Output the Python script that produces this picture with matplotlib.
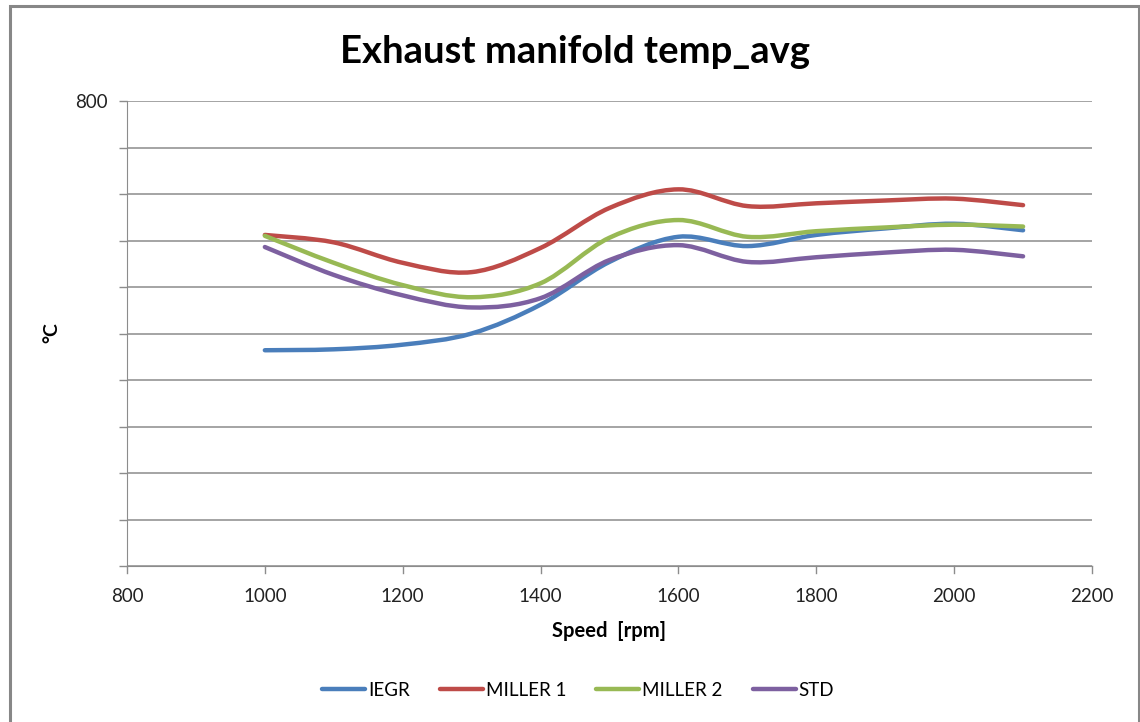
import numpy as np
import matplotlib
matplotlib.use("Agg")
import matplotlib.pyplot as plt
from matplotlib.path import Path
from matplotlib.patches import PathPatch, Rectangle
from matplotlib.lines import Line2D

plt.rcParams['font.family'] = ['Lato', 'DejaVu Sans']

speed = [1000, 1100, 1200, 1300, 1400, 1500, 1600, 1700, 1800, 1900, 2000, 2100]
iegr = [532, 533, 538, 550, 581, 627, 654, 644, 656, 663, 668, 661]
miller1 = [656, 648, 626, 616, 642, 685, 705, 687, 690, 693, 695, 688]
miller2 = [655, 626, 602, 589, 604, 653, 672, 654, 660, 664, 667, 665]
std = [643, 613, 591, 578, 588, 629, 645, 627, 632, 637, 640, 633]

series_names = ["IEGR", "MILLER 1", "MILLER 2", "STD"]
series_vals = [iegr, miller1, miller2, std]
colors = ["#4a7ebb", "#be4b48", "#98b954", "#7d60a0"]

x_ticks = [800, 1000, 1200, 1400, 1600, 1800, 2000, 2200]
y_min, y_max, y_step = 300, 800, 50


def smooth_path(xs, ys, tension=1 / 6):
    """Cubic Bezier path through the points (Catmull-Rom style smoothing)."""
    xs = np.asarray(xs, float)
    ys = np.asarray(ys, float)
    n = len(xs)
    verts = [(xs[0], ys[0])]
    codes = [Path.MOVETO]
    for i in range(n - 1):
        p0 = np.array([xs[max(i - 1, 0)], ys[max(i - 1, 0)]])
        p1 = np.array([xs[i], ys[i]])
        p2 = np.array([xs[i + 1], ys[i + 1]])
        p3 = np.array([xs[min(i + 2, n - 1)], ys[min(i + 2, n - 1)]])
        c1 = p1 + (p2 - p0) * tension
        c2 = p2 - (p3 - p1) * tension
        verts += [tuple(c1), tuple(c2), tuple(p2)]
        codes += [Path.CURVE4] * 3
    return Path(verts, codes)


fig = plt.figure(figsize=(11.4, 7.22), dpi=100)
W, H = 1140, 722

# outer chart border
fig.patches.append(Rectangle((10 / W, -0.01), (1139 - 10) / W, (722 - 6) / H + 0.01,
                             transform=fig.transFigure, fill=False,
                             edgecolor="#878787", linewidth=2.2))

ax = fig.add_axes([127 / W, 1 - 566 / H, (1092 - 127) / W, (566 - 101) / H])
ax.set_xlim(800, 2200)
ax.set_ylim(y_min, y_max)

yticks = np.arange(y_min, y_max + 1, y_step)
ax.set_yticks(yticks)
ax.set_yticklabels(["" if v != y_max else str(v) for v in yticks])
ax.set_xticks(x_ticks)
ax.set_xticklabels([str(v) for v in x_ticks])
ax.grid(axis="y", color="#8c8c8c", linewidth=1.1)
ax.set_axisbelow(True)

for side in ["top", "right"]:
    ax.spines[side].set_visible(False)
ax.spines["left"].set_color("#8c8c8c")
ax.spines["bottom"].set_color("#8c8c8c")
ax.tick_params(axis="both", color="#8c8c8c", length=6, width=1, labelsize=13.5,
               labelcolor="#222222")
ax.tick_params(axis="y", pad=8)
ax.tick_params(axis="x", pad=16, length=0)
for xv in x_ticks:
    ax.plot([xv, xv], [y_min, y_min - 7], color="#8c8c8c", lw=1, clip_on=False)

for name, vals, col in zip(series_names, series_vals, colors):
    ax.add_patch(PathPatch(smooth_path(speed, vals), facecolor="none",
                           edgecolor=col, linewidth=3.2, capstyle="round",
                           joinstyle="round"))

fig.text(609 / W, 1 - 631 / H, "Speed  [rpm]", ha="center", va="center",
         fontsize=14.5, fontweight="bold")
fig.text(52 / W, 1 - 333 / H, "°C", ha="center", va="center", rotation=90,
         fontsize=14, fontweight="bold")

fig.text(575 / W, 1 - 52 / H, "Exhaust manifold temp_avg", ha="center",
         va="center", fontsize=27.5, fontweight="bold")

handles = [Line2D([0], [0], color=c, lw=3.2, solid_capstyle="round") for c in colors]
fig.legend(handles, series_names, loc="center", bbox_to_anchor=(578 / W, 1 - 690 / H),
           ncol=4, frameon=False, fontsize=13.5, handlelength=2.3, handletextpad=0.15,
           columnspacing=1.6)

fig.savefig("out.png", dpi=100)
